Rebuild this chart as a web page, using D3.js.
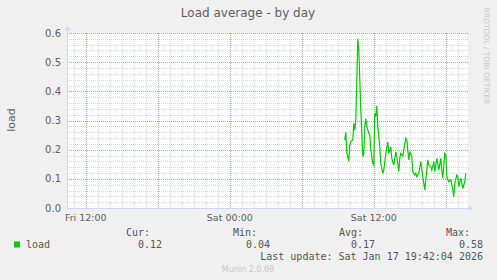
<!DOCTYPE html>
<html>
<head>
<meta charset="utf-8">
<script src="https://cdn.jsdelivr.net/npm/d3@7"></script>
<style>
  body { margin: 0; background: #f0f0f0; }
  svg { display: block; }
  text { font-family: "DejaVu Sans", sans-serif; fill: #606060; }
  .mono { font-family: "DejaVu Sans Mono", monospace; font-size: 10px; fill: #555; }
</style>
</head>
<body>
<svg id="chart"></svg>
<script>
// load samples, Saturday 2026-01-17 (HH:MM)
const times = ["09:35","09:40","09:45","09:55","10:00","10:05","10:15","10:20","10:25","10:30",
  "10:40","10:45","10:50","10:55","11:05","11:10","11:15","11:20","11:25","11:35",
  "11:40","11:45","11:55","12:00","12:05","12:10","12:15","12:20","12:30","12:35",
  "12:45","12:50","13:00","13:10","13:15","13:25","13:30","13:40","13:50","13:55",
  "14:05","14:10","14:15","14:25","14:30","14:40","14:45","14:55","15:00","15:10",
  "15:15","15:25","15:30","15:35","15:45","15:55","16:05","16:15","16:25","16:30",
  "16:35","16:45","16:50","17:00","17:05","17:15","17:20","17:25","17:35","17:40",
  "17:45","17:55","18:00","18:05","18:15","18:25","18:35","18:40","18:45","18:55",
  "19:00","19:05","19:15","19:20","19:25","19:35","19:40"];
const loads = [0.233,0.26,0.19,0.16,0.216,0.227,0.233,0.29,0.267,0.302,
  0.58,0.54,0.44,0.336,0.176,0.187,0.28,0.307,0.28,0.256,
  0.25,0.2,0.153,0.147,0.325,0.313,0.35,0.28,0.21,0.153,
  0.119,0.13,0.187,0.227,0.187,0.21,0.17,0.147,0.193,0.176,
  0.125,0.17,0.187,0.178,0.2,0.239,0.233,0.165,0.193,0.176,
  0.125,0.113,0.119,0.107,0.119,0.159,0.107,0.062,0.13,0.165,
  0.147,0.142,0.13,0.159,0.125,0.17,0.153,0.13,0.17,0.13,
  0.102,0.187,0.182,0.107,0.09,0.096,0.062,0.039,0.085,0.113,
  0.107,0.073,0.102,0.085,0.067,0.09,0.119];

const yTicks = [0, 0.1, 0.2, 0.3, 0.4, 0.5, 0.6];
const legendHeads = ["Cur:", "Min:", "Avg:", "Max:"];
const legendVals = ["0.12", "0.04", "0.17", "0.58"];

const W = 497, H = 280;
const pLeft = 67, pRight = 467, pTop = 33, pBottom = 208;

const svg = d3.select("#chart").attr("width", W).attr("height", H);
svg.append("rect").attr("width", W).attr("height", H).attr("fill", "#f0f0f0");

const parse = d3.timeParse("%Y-%m-%d %H:%M");
const data = times.map((t, i) => ({ t: parse("2026-01-17 " + t), v: loads[i] }));

const x = d3.scaleTime()
  .domain([parse("2026-01-16 10:26"), parse("2026-01-17 19:46")])
  .range([pLeft, pRight]);
const y = d3.scaleLinear().domain([0, 0.6]).range([pBottom, pTop]);

// canvas
svg.append("rect")
  .attr("x", pLeft).attr("y", pTop)
  .attr("width", pRight - pLeft + 1).attr("height", pBottom - pTop)
  .attr("fill", "#fff");

const grid = svg.append("g").attr("shape-rendering", "crispEdges");

// minor grid
const minorCol = "#d9d9d9", majorCol = "#f08a8a";
d3.range(0, 0.6001, 0.02).forEach(v => {
  grid.append("line")
    .attr("x1", pLeft).attr("x2", pRight + 1)
    .attr("y1", Math.round(y(v)) + 0.5).attr("y2", Math.round(y(v)) + 0.5)
    .attr("stroke", minorCol).attr("stroke-dasharray", "1,1");
});
d3.timeHour.range(x.domain()[0], x.domain()[1]).forEach(t => {
  grid.append("line")
    .attr("x1", Math.round(x(t)) + 0.5).attr("x2", Math.round(x(t)) + 0.5)
    .attr("y1", pTop).attr("y2", pBottom)
    .attr("stroke", minorCol).attr("stroke-dasharray", "1,1");
});

// major grid
yTicks.forEach(v => {
  grid.append("line")
    .attr("x1", pLeft).attr("x2", pRight + 1)
    .attr("y1", Math.round(y(v)) + 0.5).attr("y2", Math.round(y(v)) + 0.5)
    .attr("stroke", majorCol).attr("stroke-dasharray", "1,1");
});
d3.timeHour.every(6).range(x.domain()[0], x.domain()[1]).forEach(t => {
  grid.append("line")
    .attr("x1", Math.round(x(t)) + 0.5).attr("x2", Math.round(x(t)) + 0.5)
    .attr("y1", pTop).attr("y2", pBottom)
    .attr("stroke", majorCol).attr("stroke-dasharray", "1,1");
});

// axes
const axisCol = "#cfd6f8";
svg.append("line").attr("x1", pLeft + 0.5).attr("x2", pLeft + 0.5)
  .attr("y1", pBottom + 1).attr("y2", pTop - 4).attr("stroke", axisCol);
svg.append("line").attr("x1", pLeft).attr("x2", pRight + 4)
  .attr("y1", pBottom + 0.5).attr("y2", pBottom + 0.5).attr("stroke", axisCol);
svg.append("path").attr("d", `M${pLeft - 2.5},${pTop - 3}L${pLeft + 0.5},${pTop - 7}L${pLeft + 3.5},${pTop - 3}Z`)
  .attr("fill", axisCol);
svg.append("path").attr("d", `M${pRight + 2},${pBottom - 2.5}L${pRight + 6},${pBottom + 0.5}L${pRight + 2},${pBottom + 3.5}Z`)
  .attr("fill", axisCol);

// y tick labels
svg.selectAll(".ylab").data(yTicks).enter().append("text")
  .attr("x", 61).attr("y", d => y(d) + 3.5)
  .attr("text-anchor", "end").style("font-size", "10px")
  .text(d3.format(".1f"));

// x tick labels
d3.timeHour.every(12).range(x.domain()[0], x.domain()[1]).forEach(t => {
  svg.append("text")
    .attr("x", x(t)).attr("y", 220.5)
    .attr("text-anchor", "middle").style("font-size", "9.5px")
    .text(d3.timeFormat("%a %H:%M")(t));
});

// y label
svg.append("text")
  .attr("transform", "translate(15,120) rotate(-90)")
  .attr("text-anchor", "middle").style("font-size", "11px")
  .text("load");

// title
svg.append("text")
  .attr("x", 248).attr("y", 17)
  .attr("text-anchor", "middle").style("font-size", "12px")
  .text("Load average - by day");

// vertical credit
svg.append("text")
  .attr("transform", "translate(484,56) rotate(90)")
  .attr("text-anchor", "middle").style("font-size", "7.5px").style("fill", "#c8c8c8")
  .text("RRDTOOL / TOBI OETIKER");

// series
svg.append("path")
  .datum(data)
  .attr("fill", "none")
  .attr("stroke", "#00cc00")
  .attr("stroke-width", 1.2)
  .attr("d", d3.line().x(d => x(d.t)).y(d => y(d.v)));

// legend
svg.append("rect").attr("x", 14).attr("y", 241.5).attr("width", 6).attr("height", 6)
  .attr("fill", "#00cc00");
svg.append("text").attr("class", "mono").attr("x", 26).attr("y", 247.5).text("load");

const headRight = [150, 257, 363, 470];
const valRight = [162, 270, 375, 483];
legendHeads.forEach((h, i) => {
  svg.append("text").attr("class", "mono").attr("x", headRight[i]).attr("y", 236)
    .attr("text-anchor", "end").text(h);
  svg.append("text").attr("class", "mono").attr("x", valRight[i]).attr("y", 247.5)
    .attr("text-anchor", "end").text(legendVals[i]);
});
svg.append("text").attr("class", "mono").attr("x", 483).attr("y", 259.5)
  .attr("text-anchor", "end").text("Last update: Sat Jan 17 19:42:04 2026");

svg.append("text")
  .attr("x", 248).attr("y", 272)
  .attr("text-anchor", "middle").style("font-size", "8px").style("fill", "#c8c8c8")
  .text("Munin 2.0.69");
</script>
</body>
</html>
